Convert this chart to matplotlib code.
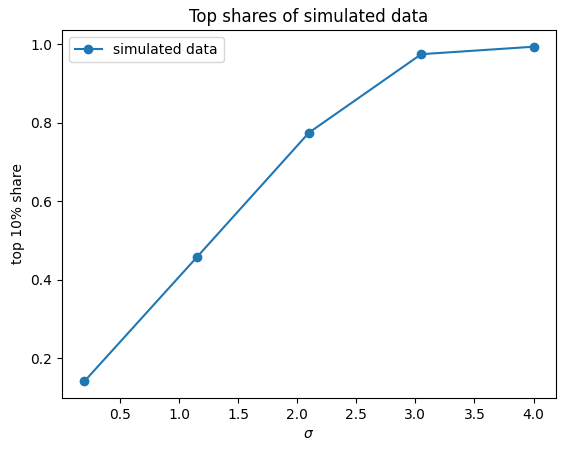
import matplotlib
matplotlib.use("Agg")
import matplotlib.pyplot as plt

sigmas = [0.2, 1.15, 2.1, 3.05, 4.0]
shares = [0.141, 0.457, 0.775, 0.975, 0.994]

fig = plt.figure(figsize=(5.67, 4.53), dpi=100)
ax = fig.add_axes([62/567, 1-398/453, (556-62)/567, (398-30)/453])
ax.plot(sigmas, shares, marker='o', label='simulated data')
ax.set_xlabel(r'$\sigma$')
ax.set_ylabel('top 10% share')
ax.set_title('Top shares of simulated data')
ax.legend(loc='upper left')
fig.savefig('out.png', dpi=100)
